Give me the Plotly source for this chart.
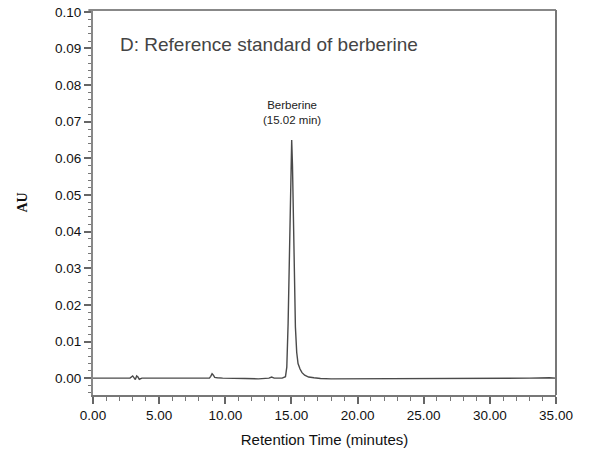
import plotly.graph_objects as go

# Retention time (minutes) and absorbance (AU)
time_min = [0.0, 1.5, 2.8, 3.0, 3.1, 3.2, 3.3, 3.4, 3.5, 3.7, 6.0, 8.8, 8.9, 9.0, 9.1, 9.2, 9.4,
            9.8, 11.5, 12.5, 13.3, 13.5, 13.7, 14.3, 14.55, 14.65, 14.75, 14.85, 14.95, 15.02,
            15.08, 15.15, 15.22, 15.3, 15.4, 15.5, 15.65, 15.8, 16.0, 16.3, 16.7, 17.2, 18.0,
            19.5, 20.5, 21.0, 24.0, 26.0, 26.2, 30.0, 33.0, 34.5, 35.0]
absorbance = [0.0, 0.0, 0.0, 0.0006, 0.0002, -0.0004, 0.0006, 0.0003, -0.0003, 0.0, 0.0, 0.0,
              0.0005, 0.0012, 0.0008, 0.0002, 0.0001, 0.0, -0.0001, -0.0002, 0.0, 0.0003, 0.0,
              0.0, 0.0004, 0.003, 0.015, 0.035, 0.055, 0.065, 0.058, 0.042, 0.026, 0.014, 0.007,
              0.004, 0.0025, 0.0015, 0.0008, 0.0003, 0.0001, -0.0001, -0.0002, -0.0002, -0.0002,
              -0.0001, -0.0001, -0.0001, 0.0, 0.0, 0.0, 0.0001, 0.0]

x_ticks = [0, 5, 10, 15, 20, 25, 30, 35]
x_tick_labels = ["0.00", "5.00", "10.00", "15.00", "20.00", "25.00", "30.00", "35.00"]
y_ticks = [0.00, 0.01, 0.02, 0.03, 0.04, 0.05, 0.06, 0.07, 0.08, 0.09, 0.10]
y_tick_labels = ["0.00", "0.01", "0.02", "0.03", "0.04", "0.05", "0.06", "0.07", "0.08", "0.09", "0.10"]

peak_time = 15.02
peak_label = "Berberine<br>(15.02 min)"
title_text = "D: Reference standard of berberine"

tick_font = dict(family="Liberation Sans Narrow, Arial Narrow, Liberation Sans, Arial", size=13.5, color="#111")

fig = go.Figure()
fig.add_trace(go.Scatter(x=time_min, y=absorbance, mode="lines",
                         line=dict(color="#4a4a4a", width=1.4), showlegend=False,
                         hoverinfo="skip"))

fig.add_annotation(x=peak_time, y=0.0682, text=peak_label, showarrow=False,
                   xref="x", yref="y", yanchor="bottom",
                   font=dict(family="Liberation Sans, Arial", size=11.5, color="#222"))
fig.add_annotation(x=0.053, y=0.91, xref="paper", yref="paper", text=title_text,
                   showarrow=False, xanchor="left", yanchor="middle",
                   font=dict(family="Liberation Sans, Arial", size=19, color="#444"))

fig.update_layout(
    width=592, height=461,
    margin=dict(l=93, r=36, t=10, b=66),
    paper_bgcolor="white", plot_bgcolor="white",
    xaxis=dict(range=[0, 35], tickmode="array", tickvals=x_ticks, ticktext=x_tick_labels,
               ticks="outside", ticklen=7, tickwidth=2, tickcolor="#666",
               showline=True, linecolor="#777", linewidth=2, mirror=False,
               showgrid=False, zeroline=False, tickfont=tick_font, automargin=False,
               minor=dict(dtick=1, ticks="outside", ticklen=4, tickcolor="#777", tickwidth=1),
               title=dict(text="Retention Time (minutes)",
                          font=dict(family="Liberation Sans, Arial", size=15, color="#111"),
                          standoff=12)),
    yaxis=dict(range=[-0.0046, 0.1005], tickmode="array", tickvals=y_ticks, ticktext=y_tick_labels,
               ticks="outside", ticklen=7, tickwidth=1.5, tickcolor="#666",
               showline=True, linecolor="#888", linewidth=2, automargin=False,
               showgrid=False, zeroline=False, tickfont=tick_font,
               minor=dict(dtick=0.002, ticks="outside", ticklen=3, tickcolor="#777", tickwidth=1),
               title=dict(text="<b>AU</b>",
                          font=dict(family="Liberation Serif, Times New Roman", size=14, color="#111"),
                          standoff=24)),
)

# top and right frame lines
fig.add_shape(type="line", xref="paper", yref="paper", x0=-0.01, x1=1, y0=1, y1=1,
              line=dict(color="#888", width=2))
fig.add_shape(type="line", xref="paper", yref="paper", x0=1, x1=1, y0=0, y1=1,
              line=dict(color="#777", width=2))

fig.write_html("out.html", config={"displayModeBar": False},
               post_script="document.body.style.margin='0';")
